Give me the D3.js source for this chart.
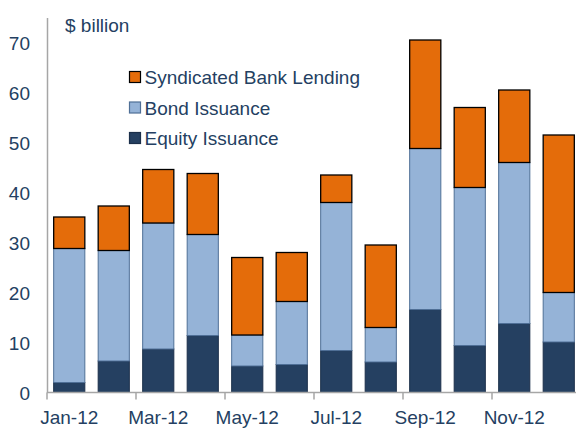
<!DOCTYPE html>
<html>
<head>
<meta charset="utf-8">
<script src="https://cdn.jsdelivr.net/npm/d3@7"></script>
<style>
  body { margin: 0; background: #fff; }
  svg { display: block; font-family: "Liberation Sans", Arial, sans-serif; }
</style>
</head>
<body>
<svg id="chart" width="576" height="428"></svg>
<script>
// Data ($ billion)
const months = ["Jan-12", "Feb-12", "Mar-12", "Apr-12", "May-12", "Jun-12",
    "Jul-12", "Aug-12", "Sep-12", "Oct-12", "Nov-12", "Dec-12"];
const equity = [2.0, 6.3, 8.7, 11.4, 5.3, 5.6, 8.4, 6.1, 16.6, 9.4, 13.8, 10.1];
const bond = [26.8, 22.1, 25.2, 20.2, 6.2, 12.6, 29.6, 6.9, 32.2, 31.6, 32.2, 9.9];
const syndicated = [6.3, 8.9, 10.7, 12.2, 15.5, 9.8, 5.5, 16.5, 21.7, 16.0, 14.5, 31.5];
const yTicks = [0, 10, 20, 30, 40, 50, 60, 70];
const seriesNames = ["Equity Issuance", "Bond Issuance", "Syndicated Bank Lending"];

const textColor = "#243F62";
const fills = {
    "Equity Issuance": "#254061",
    "Bond Issuance": "#95B3D7",
    "Syndicated Bank Lending": "#E46C0A"
};
const strokes = {
    "Equity Issuance": "#1B2F4A",
    "Bond Issuance": "#4F6F96",
    "Syndicated Bank Lending": "#000000"
};

const table = months.map((m, i) => ({
    month: m,
    "Equity Issuance": equity[i],
    "Bond Issuance": bond[i],
    "Syndicated Bank Lending": syndicated[i]
}));

const svg = d3.select("#chart");
const plot = { left: 47, right: 581, top: 17.5, bottom: 392.5 };

const x = d3.scaleBand()
    .domain(months)
    .range([plot.left, plot.right])
    .paddingInner(0.3)
    .paddingOuter(0.15);

const y = d3.scaleLinear()
    .domain([0, 75])
    .range([plot.bottom, plot.top]);

const stack = d3.stack().keys(seriesNames);
const layers = stack(table);

// Bars
svg.append("g")
    .selectAll("g")
    .data(layers)
    .join("g")
    .attr("fill", d => fills[d.key])
    .attr("stroke", d => strokes[d.key])
    .attr("stroke-width", d => d.key === "Syndicated Bank Lending" ? 1.3 : 1)
    .selectAll("rect")
    .data(d => d)
    .join("rect")
    .attr("x", d => x(d.data.month))
    .attr("y", d => y(d[1]))
    .attr("width", x.bandwidth())
    .attr("height", d => y(d[0]) - y(d[1]));

// Y axis (line only, no tick marks)
const yAxis = svg.append("g")
    .attr("transform", `translate(${plot.left},0)`)
    .call(d3.axisLeft(y).tickValues(yTicks).tickSize(0).tickPadding(17));
yAxis.select(".domain").attr("stroke", "#A6A6A6").attr("stroke-width", 1.5);
yAxis.selectAll("text")
    .attr("fill", textColor)
    .style("font-size", "19px")
    .style("font-family", "Liberation Sans, Arial, sans-serif")
    .attr("dy", "0.38em");

// X axis: line, tick marks every two months at band edges
const step = x.step();
svg.append("line")
    .attr("x1", plot.left).attr("x2", plot.right)
    .attr("y1", plot.bottom).attr("y2", plot.bottom)
    .attr("stroke", "#A6A6A6")
    .attr("stroke-width", 1.5);

const tickMonths = months.filter((m, i) => i % 2 === 0);
svg.append("g")
    .selectAll("line")
    .data(tickMonths)
    .join("line")
    .attr("x1", d => x(d) - step * 0.15)
    .attr("x2", d => x(d) - step * 0.15)
    .attr("y1", plot.bottom)
    .attr("y2", plot.bottom + 7)
    .attr("stroke", "#A6A6A6")
    .attr("stroke-width", 1.5);

svg.append("g")
    .selectAll("text")
    .data(tickMonths)
    .join("text")
    .attr("x", d => x(d) + x.bandwidth() / 2)
    .attr("y", 423.5)
    .attr("text-anchor", "middle")
    .attr("fill", textColor)
    .style("font-size", "19px")
    .text(d => d);

// Unit label
svg.append("text")
    .attr("x", 65)
    .attr("y", 32)
    .attr("fill", textColor)
    .style("font-size", "19px")
    .text("$ billion");

// Legend
const legendOrder = ["Syndicated Bank Lending", "Bond Issuance", "Equity Issuance"];
const legend = svg.append("g")
    .selectAll("g")
    .data(legendOrder)
    .join("g")
    .attr("transform", (d, i) => `translate(129.5,${77 + i * 30.5})`);

legend.append("rect")
    .attr("x", 0)
    .attr("y", -5.5)
    .attr("width", 11)
    .attr("height", 11)
    .attr("fill", d => fills[d])
    .attr("stroke", d => strokes[d])
    .attr("stroke-width", 1.2);

legend.append("text")
    .attr("x", 15)
    .attr("y", 7)
    .attr("fill", textColor)
    .style("font-size", "19px")
    .text(d => d);
</script>
</body>
</html>
